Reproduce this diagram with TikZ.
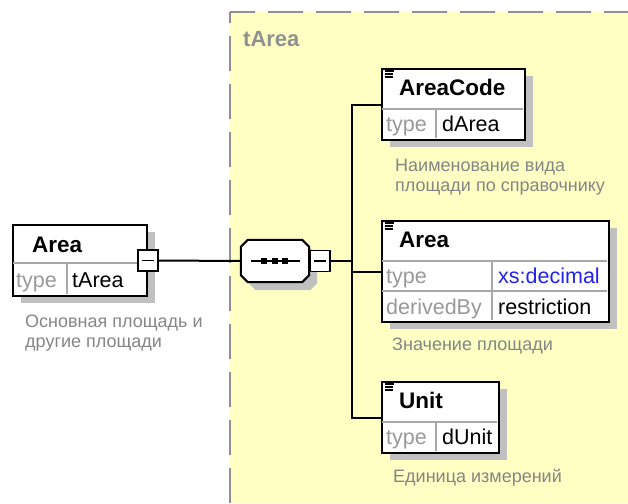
\documentclass[tikz,border=0pt]{standalone}
\usepackage{fontspec}
\setmainfont{Liberation Sans}
\usetikzlibrary{shadows}

\definecolor{typebg}{HTML}{FFFFC4}
\definecolor{framegray}{HTML}{909090}
\definecolor{shadowgray}{HTML}{C0C0C0}
\definecolor{descgray}{HTML}{858585}
\definecolor{labelgray}{HTML}{999999}
\definecolor{cellgray}{HTML}{A8A8A8}
\definecolor{xsblue}{HTML}{2222EE}

\tikzset{
  elbox/.style={draw=black, line width=2pt, fill=white, anchor=north west,
    inner sep=0pt,
    drop shadow={shadow xshift=8pt, shadow yshift=-7pt, fill=shadowgray, opacity=1}},
  seqbox/.style={inner sep=0pt, minimum width=68pt, minimum height=42pt},
  seqline/.style={draw=black, line width=2pt, fill=white,
    drop shadow={shadow xshift=8pt, shadow yshift=-8pt, fill=shadowgray, opacity=1}},
  minusbox/.style={draw=black, line width=1.6pt, fill=white, inner sep=0pt,
    minimum width=20pt, minimum height=21pt,
    path picture={\draw[line width=1.6pt] ([xshift=-6pt]path picture bounding box.center)
      -- ([xshift=6pt]path picture bounding box.center);}},
  conn/.style={line width=2pt},
  divider/.style={draw=cellgray, line width=1.5pt},
  icon/.style={line width=1.3pt},
  nametext/.style={anchor=base west, inner sep=0pt,
    font=\fontsize{22.5}{26}\selectfont\bfseries},
  typelabel/.style={anchor=base west, inner sep=0pt, text=labelgray,
    font=\fontsize{21.5}{26}\selectfont},
  typevalue/.style={anchor=base west, inner sep=0pt,
    font=\fontsize{21.5}{26}\selectfont},
  desc/.style={anchor=base west, inner sep=0pt, align=left, text=descgray,
    font=\fontsize{18}{20}\selectfont},
}

\begin{document}
\begin{tikzpicture}[x=1pt, y=-1pt]
  \useasboundingbox (0,0) rectangle (628,503);

  % complex type frame
  \fill[typebg] (230,12) rectangle (628,503);
  \draw[framegray, line width=2.5pt, dash pattern=on 35pt off 13pt, dash phase=10pt]
    (230,12) -- (628,12);
  \draw[framegray, line width=2.5pt, dash pattern=on 35pt off 13pt, dash phase=24pt]
    (230,12) -- (230,503);
  \node[anchor=base west, inner sep=0pt, text=framegray,
    font=\fontsize{22}{26}\selectfont\bfseries] (typeName) at (243,47) {tArea};

  % root element
  \node[elbox, minimum width=134pt, minimum height=71pt] (areaRoot) at (12,224) {};
  \draw[divider] (13,263) -- (145,263);
  \draw[divider] (67,263) -- (67,294);
  \node[nametext] (areaRootName) at (32,252) {Area};
  \node[typelabel] (areaRootType) at (16,287) {type};
  \node[typevalue] (areaRootValue) at (72,287) {tArea};
  \node[desc] (areaRootDesc) at (25,347) {Основная площадь и\\другие площади};
  \node[minusbox] (areaRootMinus) at (areaRoot.east) {};

  % sequence
  \node[seqbox] (seq) at (275,261) {};
  \draw[seqline] ([xshift=7pt]seq.north west) -- ([xshift=-7pt]seq.north east)
    -- ([yshift=-7pt]seq.north east) -- ([yshift=7pt]seq.south east)
    -- ([xshift=-7pt]seq.south east) -- ([xshift=7pt]seq.south west)
    -- ([yshift=7pt]seq.south west) -- ([yshift=-7pt]seq.north west) -- cycle;
  \draw[line width=1.6pt] ([xshift=-24pt]seq.center) -- ([xshift=25pt]seq.center);
  \foreach \dx in {-11,0,10}
    \fill ([shift={(\dx-3,-3)}]seq.center) rectangle ([shift={(\dx+3,3)}]seq.center);
  \node[minusbox, anchor=west] (seqMinus) at (seq.east) {};
  \coordinate (bus) at (352,261);

  % AreaCode
  \node[elbox, minimum width=143pt, minimum height=71pt] (areaCode) at (381,68) {};
  \draw[divider] (382,109) -- (523,109);
  \draw[divider] (436,109) -- (436,138);
  \draw[icon] (385,71) -- (394,71) (385,74) -- (393,74) (385,77) -- (393,77);
  \node[nametext] (areaCodeName) at (399,95) {AreaCode};
  \node[typelabel] (areaCodeType) at (386,131) {type};
  \node[typevalue] (areaCodeValue) at (442,131) {dArea};
  \node[desc] (areaCodeDesc) at (395,191) {Наименование вида\\площади по справочнику};

  % Area
  \node[elbox, minimum width=227pt, minimum height=101pt] (areaElem) at (381,220) {};
  \draw[divider] (382,261) -- (607,261);
  \draw[divider] (382,291) -- (607,291);
  \draw[divider] (492,261) -- (492,320);
  \draw[icon] (385,223) -- (394,223) (385,226) -- (393,226) (385,229) -- (393,229);
  \node[nametext] (areaElemName) at (399,247) {Area};
  \node[typelabel] (areaElemType) at (386,283) {type};
  \node[typevalue, text=xsblue] (areaElemValue) at (498,283) {xs:decimal};
  \node[typelabel] (areaElemDerived) at (386,314) {derivedBy};
  \node[typevalue] (areaElemRestr) at (498,314) {restriction};
  \node[desc] (areaElemDesc) at (392,350) {Значение площади};

  % Unit
  \node[elbox, minimum width=117pt, minimum height=71pt] (unitElem) at (381,381) {};
  \draw[divider] (382,422) -- (497,422);
  \draw[divider] (436,422) -- (436,451);
  \draw[icon] (385,384) -- (394,384) (385,387) -- (393,387) (385,390) -- (393,390);
  \node[nametext] (unitElemName) at (399,408) {Unit};
  \node[typelabel] (unitElemType) at (386,444) {type};
  \node[typevalue] (unitElemValue) at (442,444) {dUnit};
  \node[desc] (unitElemDesc) at (393,482) {Единица измерений};

  % connectors
  \draw[conn] (areaRootMinus.east) -- (seq.west);
  \draw[conn] (seqMinus.east) -- (seqMinus.east -| bus);
  \draw[conn] (areaCode.west) -| (bus |- unitElem.west) -- (unitElem.west);
  \draw[conn] (areaElem.west -| bus) -- (areaElem.west);
\end{tikzpicture}
\end{document}
